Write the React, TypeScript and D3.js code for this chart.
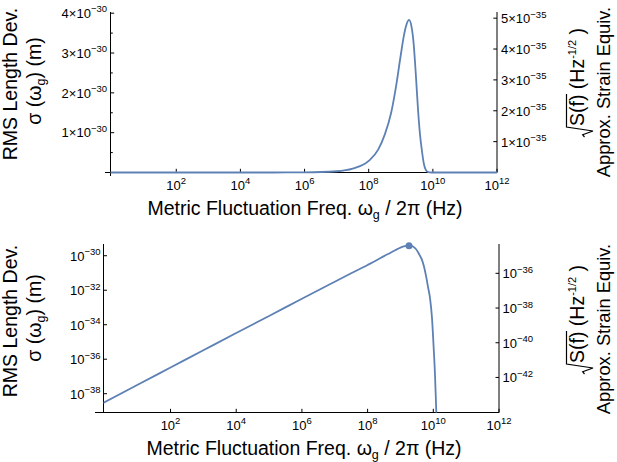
import * as d3 from "d3";

// log10 of frequency (Hz) and RMS length deviation (m)
const freqExp = [
  -0.05, 1, 2, 3, 4, 5, 6, 7, 7.5, 8, 8.3, 8.5, 8.7, 8.85, 9.0, 9.1, 9.18, 9.26,
  9.33, 9.4, 9.47, 9.54, 9.6, 9.66, 9.72, 9.78, 9.84, 9.9, 9.96, 10.01, 10.05,
  10.09, 10.13, 10.5, 12,
];
const sigmaM = [
  2.9e-39, 3.3e-38, 3.3e-37, 3.3e-36, 3.3e-35, 3.2e-34, 3.2e-33, 3.1e-32, 9.6e-32,
  2.9e-31, 5.8e-31, 9.5e-31, 1.5e-30, 2.15e-30, 2.95e-30, 3.45e-30, 3.72e-30,
  3.83e-30, 3.68e-30, 3.25e-30, 2.45e-30, 1.55e-30, 0.95e-30, 5.4e-31, 2.2e-31,
  6.5e-32, 1.5e-32, 3.5e-33, 2.5e-34, 5e-36, 1.5e-37, 1e-39, 1e-41, 0, 0,
];
const peakExp = 9.26;
const peakSigma = 3.83e-30;

const xTickExp = [2, 4, 6, 8, 10, 12];
const linLeftTicks = [1, 2, 3, 4]; // x 10^-30
const linLeftMinor = [0.5, 1.5, 2.5, 3.5];
const linRightTicks = [1, 2, 3, 4, 5]; // x 10^-35
const logLeftTicks = [-30, -32, -34, -36, -38];
const logRightTicks = [-36, -38, -40, -42];

const BLUE = "#5e81b5";
const FONT = "'Liberation Sans', Arial, sans-serif";
const TICK_FS = 13;
const SUP_FS = 9.5;
const LABEL_FS = 19.5;

type Pt = { f: number; s: number };
const points: Pt[] = freqExp.map((e, i) => ({ f: Math.pow(10, e), s: sigmaM[i] }));

function Pow({ x, y, anchor, pre, exp }: { x: number; y: number; anchor: string; pre: string; exp: string }) {
  return (
    <text x={x} y={y} textAnchor={anchor} fontSize={TICK_FS}>
      {pre}10
      <tspan dy={-5.5} fontSize={SUP_FS}>{exp}</tspan>
    </text>
  );
}

function LeftLabel({ cy }: { cy: number }) {
  return (
    <g fontSize={LABEL_FS}>
      <text transform={`translate(17,${cy}) rotate(-90)`} textAnchor="middle">RMS Length Dev.</text>
      <text transform={`translate(40.5,${cy - 3}) rotate(-90)`} textAnchor="middle">
        σ (ω<tspan dy={4.5} fontSize={12.5}>g</tspan>
        <tspan dy={-4.5}>) (m)</tspan>
      </text>
    </g>
  );
}

function RightLabel({ top, bottom }: { top: number; bottom: number }) {
  // radical drawn in text coordinates (u along text, v below baseline)
  const sw = 32;
  return (
    <g fontSize={LABEL_FS}>
      <g transform={`translate(583.5,${bottom}) rotate(-90)`}>
        <path
          d={`M0,1 L2.2,-0.8 L6,9.5 L10,-17 L${11 + sw},-17`}
          fill="none"
          stroke="#000"
          strokeWidth={1.2}
        />
        <text x={11} y={0}>
          S(f) (Hz
          <tspan dy={-8} fontSize={11}>-1/2</tspan>
          <tspan dy={8}> )</tspan>
        </text>
      </g>
      <text transform={`translate(610,${top}) rotate(-90)`} textAnchor="middle" fontSize={18.3}>
        Approx. Strain Equiv.
      </text>
    </g>
  );
}

function XAxisText({ x, axisY, cx }: { x: d3.ScaleLogarithmic<number, number>; axisY: number; cx: number }) {
  return (
    <g>
      {xTickExp.map((e) => (
        <g key={e}>
          <line x1={x(Math.pow(10, e))} x2={x(Math.pow(10, e))} y1={axisY} y2={axisY - 3.7} stroke="#000" />
          <Pow x={x(Math.pow(10, e))} y={axisY + 17} anchor="middle" pre="" exp={String(e)} />
        </g>
      ))}
      <text x={cx} y={axisY + 42.5} textAnchor="middle" fontSize={LABEL_FS}>
        Metric Fluctuation Freq. ω<tspan dy={4} fontSize={12.5}>g</tspan>
        <tspan dy={-4}> / 2π (Hz)</tspan>
      </text>
    </g>
  );
}

export default function App() {
  // upper panel: linear sigma
  const x1 = d3.scaleLog().domain([Math.pow(10, -0.05), 1e12]).range([110.5, 497]);
  const y1 = d3.scaleLinear().domain([0, 4.03e-30]).range([172.5, 12]);
  const y1r = d3.scaleLinear().domain([0, 5.2e-35]).range([172.5, 12]);

  // lower panel: log sigma
  const x2 = d3.scaleLog().domain([Math.pow(10, -0.04), 1e12]).range([103.5, 499]);
  const y2 = d3.scaleLog().domain([Math.pow(10, -39.09), Math.pow(10, -29.32)]).range([412.5, 244]);
  const y2r = d3.scaleLog().domain([Math.pow(10, -44.02), Math.pow(10, -34.31)]).range([412.5, 244]);

  const line1 = d3
    .line<Pt>()
    .x((d) => x1(d.f))
    .y((d) => y1(d.s))
    .curve(d3.curveMonotoneX);
  const line2 = d3
    .line<Pt>()
    .defined((d) => d.s > 0)
    .x((d) => x2(d.f))
    .y((d) => y2(d.s))
    .curve(d3.curveMonotoneX);

  return (
    <svg
      width={617}
      height={462}
      style={{ position: "absolute", left: 0, top: 0, background: "#fff" }}
      fontFamily={FONT}
      fill="#000"
    >
      <defs>
        <clipPath id="clipBottom">
          <rect x={103.5} y={240} width={395.5} height={172.5} />
        </clipPath>
      </defs>

      {/* ---------- upper panel ---------- */}
      <g stroke="#000" strokeWidth={1}>
        <line x1={105} x2={497} y1={172.5} y2={172.5} />
        <line x1={110.5} x2={110.5} y1={12} y2={176} />
        <line x1={497} x2={497} y1={12} y2={172.5} />
        {linLeftTicks.map((v) => (
          <line key={v} x1={110.5} x2={114.2} y1={y1(v * 1e-30)} y2={y1(v * 1e-30)} />
        ))}
        {linLeftMinor.map((v) => (
          <line key={v} x1={110.5} x2={112.8} y1={y1(v * 1e-30)} y2={y1(v * 1e-30)} />
        ))}
        {linRightTicks.map((v) => (
          <line key={v} x1={497} x2={493.3} y1={y1r(v * 1e-35)} y2={y1r(v * 1e-35)} />
        ))}
      </g>
      {linLeftTicks.map((v) => (
        <Pow key={v} x={107} y={y1(v * 1e-30) + 4.8} anchor="end" pre={`${v}×`} exp="−30" />
      ))}
      {linRightTicks.map((v) => (
        <Pow key={v} x={501} y={y1r(v * 1e-35) + 5} anchor="start" pre={`${v}×`} exp="−35" />
      ))}
      <XAxisText x={x1} axisY={172.5} cx={305} />
      <LeftLabel cy={84} />
      <RightLabel top={92} bottom={137} />
      <path d={line1(points) ?? ""} fill="none" stroke={BLUE} strokeWidth={1.8} />

      {/* ---------- lower panel ---------- */}
      <g stroke="#000" strokeWidth={1}>
        <line x1={95} x2={499} y1={412.5} y2={412.5} />
        <line x1={103.5} x2={103.5} y1={244} y2={412.5} />
        <line x1={499} x2={499} y1={244} y2={412.5} />
        {logLeftTicks.map((e) => (
          <line key={e} x1={103.5} x2={107} y1={y2(Math.pow(10, e))} y2={y2(Math.pow(10, e))} />
        ))}
        {logRightTicks.map((e) => (
          <line key={e} x1={499} x2={495.5} y1={y2r(Math.pow(10, e))} y2={y2r(Math.pow(10, e))} />
        ))}
      </g>
      {logLeftTicks.map((e) => (
        <Pow key={e} x={100.5} y={y2(Math.pow(10, e)) + 4.8} anchor="end" pre="" exp={`−${-e}`} />
      ))}
      {logRightTicks.map((e) => (
        <Pow key={e} x={502.5} y={y2r(Math.pow(10, e)) + 5} anchor="start" pre="" exp={`−${-e}`} />
      ))}
      <XAxisText x={x2} axisY={412.5} cx={304} />
      <LeftLabel cy={321} />
      <RightLabel top={329} bottom={374} />
      <g clipPath="url(#clipBottom)">
        <path d={line2(points) ?? ""} fill="none" stroke={BLUE} strokeWidth={1.8} />
      </g>
      <circle cx={x2(Math.pow(10, peakExp))} cy={y2(peakSigma)} r={3.5} fill={BLUE} />
    </svg>
  );
}
